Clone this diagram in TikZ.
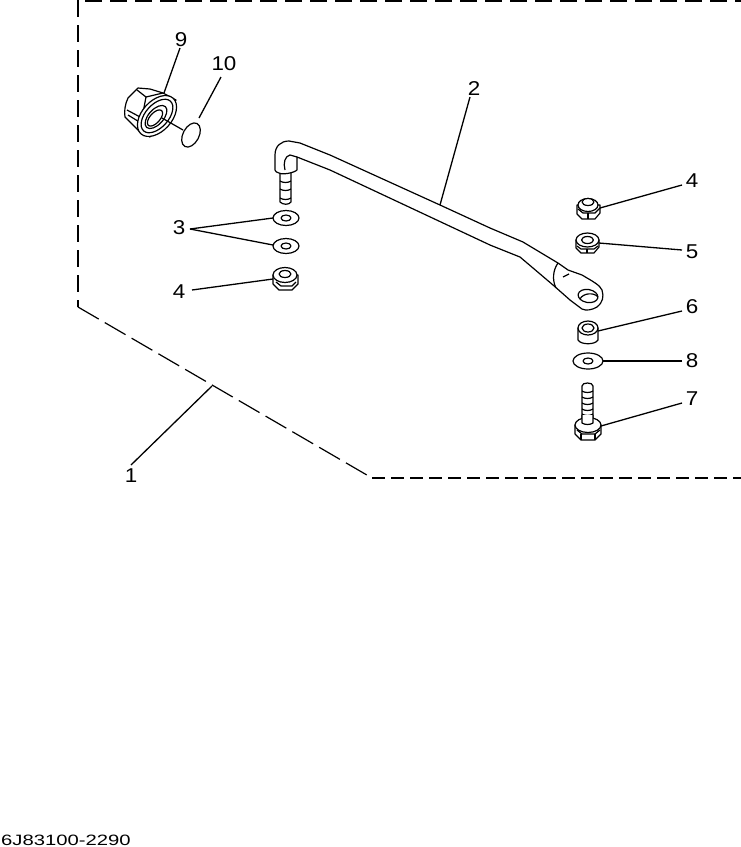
\documentclass[tikz,border=0pt]{standalone}
\usepackage{fontspec}
\setmainfont{Liberation Sans}
\newfontfamily\labfont[FakeStretch=1.12]{Liberation Sans}
\newfontfamily\codefont[FakeStretch=1.35]{Liberation Sans}
\tikzset{
 part/.style={draw=black,line width=1.2pt,fill=white,line join=round},
 ln/.style={draw=black,line width=1.2pt,line join=round},
 leader/.style={draw=black,line width=1.3pt},
 border/.style={draw=black,line width=1.5pt,dash pattern=on 17pt off 8pt},
 lab/.style={inner sep=0pt,font=\labfont\fontsize{20}{20}\selectfont},
}
\newcommand{\tell}[6][part]{\draw[#1,shift={(#2,#3)},rotate=#6] (0,0) circle[x radius=#4pt,y radius=#5pt];}
\begin{document}
\begin{tikzpicture}[x=1pt,y=-1pt]
\useasboundingbox (0,0) rectangle (741,847);
\fill[white] (0,0) rectangle (741,847);
% border
\coordinate (b0) at (85,0.8); \coordinate (b1) at (741,0.8);
\coordinate (b2) at (78,0); \coordinate (b3) at (78,307);
\coordinate (b4) at (372,478); \coordinate (b5) at (741,478);
\draw[border] (b0) -- (b1);
\draw[border] (b2) -- (b3);
\draw[border,line width=1.2pt,dash pattern=on 24pt off 7pt] (b3) -- (b4);
\draw[border,dash pattern=on 13pt off 6pt] (b4) -- (b5);
% nut 9
\draw[part] (138,88) -- (128,98) .. controls (125,104) and (124,112) .. (125,117) -- (140,132) -- (150,137) -- (176,100) -- (163,93) -- (150,89) -- cycle;
\draw[ln] (137,90) -- (146,97) -- (163,93);
\draw[ln] (127,110) -- (142,118);
\draw[ln] (128,115) -- (141,123);
\draw[ln] (146,97) -- (142,118);
\tell{157}{116}{24}{15}{48}
\tell{157}{116}{20}{11.5}{48}
\tell{156}{117}{14}{7.5}{48}
\tell{155}{118}{10}{5}{48}
% ring 10
\tell{191}{135}{13}{8}{62}
\coordinate (nutTip) at (162,118); \coordinate (ringTip) at (183,130);
\draw[ln] (nutTip) -- (ringTip);
% lower bolt of rod
\draw[part] (280,170) -- (280,202) .. controls (283,205) and (289,205) .. (291,202) -- (291,170) -- cycle;
\foreach \yy in {181,189,198}{\draw[ln] (280,\yy) .. controls (283,\yy+2) and (288,\yy+2) .. (291,\yy);}
% rod
\draw[part] (275,170) -- (275,155) .. controls (275,146) and (281,141) .. (289,141)
 -- (300,143) -- (330,155) -- (440,205) -- (490,228) -- (523,242) -- (558,263) -- (568,270) -- (582,275)
 .. controls (592,281) and (600,285) .. (602,290) .. controls (604,297) and (603,302) .. (597,307)
 .. controls (592,310) and (586,311) .. (582,309) -- (570,300) -- (553,285) -- (533,268) -- (520,257) -- (490,245)
 -- (330,170) -- (297,157) -- (297,170) .. controls (294,173) and (282,175) .. (279,173) .. controls (277,172) and (275,172) .. (275,170) -- cycle;
\draw[ln] (285,170) .. controls (283,163) and (285,156) .. (290,155) -- (297,157);
\draw[ln] (558,263) .. controls (553,270) and (552,280) .. (556,288);
\draw[ln] (563,277) -- (569,274);
\tell{588}{296}{10}{6.5}{-10}
\draw[ln] (580,299) .. controls (583,293) and (594,292) .. (598,297);
% washers 3
\tell{286}{218}{13}{7.5}{0}\tell{286}{218}{5}{3}{0}
\tell{286}{246}{13}{7.5}{0}\tell{286}{246}{5}{3}{0}
% nut 4 left
\draw[part] (273,275) -- (273,284) -- (279,290) -- (292,290) -- (298,284) -- (298,275) -- cycle;
\draw[ln] (276,282) -- (281,286) -- (292,286) -- (296,282);
\tell{285}{275}{12}{7.5}{0}\tell{285}{274}{6}{3.5}{0}
% nut 4 right
\draw[part] (577,205) -- (577,214) -- (582,219) -- (595,219) -- (600,213) -- (600,205) -- cycle;
\draw[ln] (578,209) -- (583,213) -- (595,213) -- (600,208);
\draw[ln] (588,213) -- (588,219);
\tell{588}{205}{10}{6.5}{0}\tell{588}{202}{6}{3.5}{0}
% nut 5
\draw[part] (576,240) -- (576,248) -- (581,253) -- (594,253) -- (599,247) -- (599,240) -- cycle;
\draw[ln] (577,246) -- (581,249) -- (594,249) -- (598,246);
\draw[ln] (587,249) -- (587,253);
\tell{587.5}{240}{11.5}{7}{0}\tell{587.5}{240}{6}{3.5}{0}
% spacer 6
\draw[part] (578,328) -- (578,340) .. controls (581,345) and (595,345) .. (598,340) -- (598,328) -- cycle;
\tell{588}{328}{10}{7}{0}\tell{588}{328}{6}{4}{0}
% washer 8
\tell{588}{361}{15}{8}{0}\tell{588}{361}{5}{3}{0}
% bolt 7
\draw[part] (582,386) .. controls (582,382) and (593,382) .. (593,386) -- (593,420) -- (582,420) -- cycle;
\foreach \yy in {391,397,403,409,414}{\draw[ln] (582,\yy) .. controls (585,\yy+2) and (590,\yy+2) .. (593,\yy);}
\draw[part] (575,425) -- (575,434) -- (581,440) -- (595,440) -- (601,434) -- (601,425) -- cycle;
\tell{588}{425}{13}{7.5}{0}
\draw[ln] (577,430) -- (582,434) -- (595,434) -- (600,430);
\draw[ln] (581,434) -- (581,440); \draw[ln] (595,434) -- (595,440);
\draw[part] (582,415) -- (582,423) .. controls (585,425) and (590,425) .. (593,423) -- (593,415);
% labels
\node[lab] (n9) at (181,40) {9};
\node[lab] (n10) at (224,64) {10};
\node[lab] (n2) at (474,89) {2};
\node[lab] (n4r) at (692,181) {4};
\node[lab] (n5) at (692,252) {5};
\node[lab] (n6) at (692,307) {6};
\node[lab] (n8) at (692,361) {8};
\node[lab] (n7) at (692,399) {7};
\node[lab] (n3) at (179,228) {3};
\node[lab] (n4l) at (179,292) {4};
\node[lab] (n1) at (131,476) {1};
\node[inner sep=0pt,anchor=west,font=\codefont\fontsize{15}{15}\selectfont] (code) at (1,840.5) {6J83100-2290};
% leader ends
\coordinate (a9a) at (180,48); \coordinate (a9) at (164,93);
\coordinate (a10a) at (221,77); \coordinate (a10) at (199,118);
\coordinate (a2a) at (470,97); \coordinate (a2) at (440,205);
\coordinate (a4ra) at (682,185); \coordinate (a4r) at (600,208);
\coordinate (a5a) at (682,250); \coordinate (a5) at (599,243);
\coordinate (a6a) at (682,311); \coordinate (a6) at (598,331);
\coordinate (a8a) at (682,361); \coordinate (a8) at (603,361);
\coordinate (a7a) at (682,403); \coordinate (a7) at (601,426);
\coordinate (a3a) at (190,229); \coordinate (a31) at (273,218); \coordinate (a32) at (273,245);
\coordinate (a4la) at (192,290); \coordinate (a4l) at (273,279);
\coordinate (a1a) at (131,465); \coordinate (a1) at (212,386);
\draw[leader] (a9a) -- (a9);
\draw[leader] (a10a) -- (a10);
\draw[leader] (a2a) -- (a2);
\draw[leader] (a4ra) -- (a4r);
\draw[leader] (a5a) -- (a5);
\draw[leader] (a6a) -- (a6);
\draw[leader] (a8a) -- (a8);
\draw[leader] (a7a) -- (a7);
\draw[leader] (a3a) -- (a31);
\draw[leader] (a3a) -- (a32);
\draw[leader] (a4la) -- (a4l);
\draw[leader] (a1a) -- (a1);
\end{tikzpicture}
\end{document}
